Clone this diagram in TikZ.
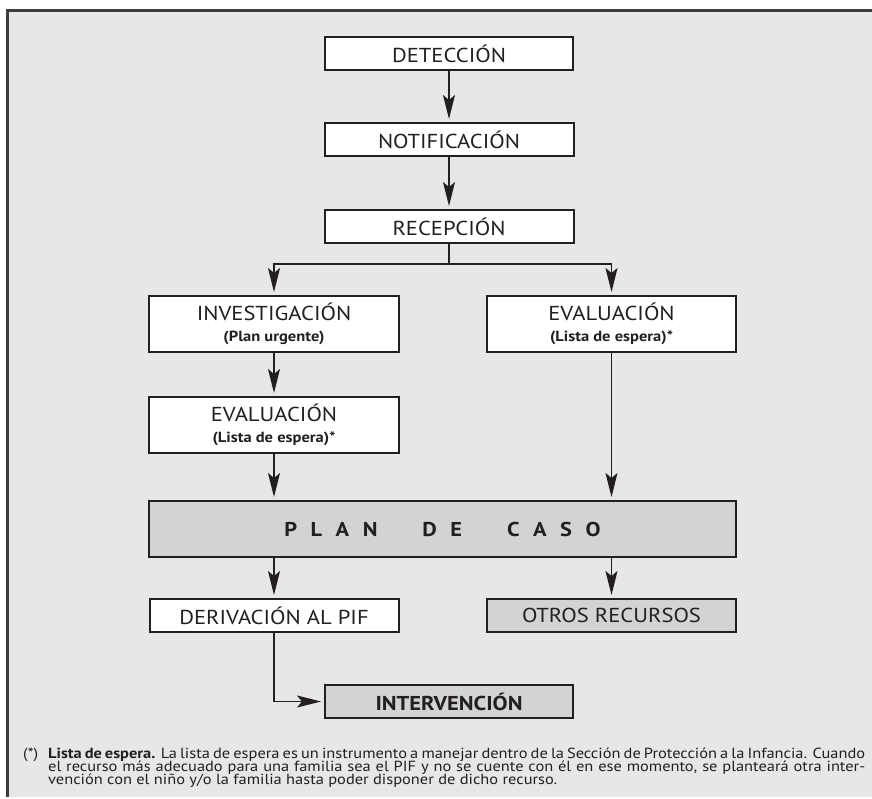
\documentclass[tikz,border=0pt]{standalone}
\usepackage{fontspec}
\setmainfont{PT Sans}[FakeStretch=1.12]
\usetikzlibrary{arrows.meta}
\definecolor{ink}{HTML}{231F20}
\definecolor{bg}{HTML}{E6E7E8}
\definecolor{boxgray}{HTML}{D1D3D4}
\definecolor{framec}{HTML}{3C3C3C}
\newlength\fitw
\newcommand\subline[1]{{\bfseries\fontsize{\subsize}{\subsize}\selectfont #1}}
\begin{document}%
\settowidth\fitw{\fontsize{10}{12}\selectfont NOTIFICACIÓN}%
\pgfmathsetmacro\mainsize{10*142/\fitw}%
\settowidth\fitw{\fontsize{10}{12}\selectfont\bfseries (Lista de espera)*}%
\pgfmathsetmacro\subsize{10*123/\fitw}%
\settowidth\fitw{\fontsize{10}{12}\selectfont\bfseries INTERVENCIÓN}%
\pgfmathsetmacro\intsize{10*147/\fitw}%
\settowidth\fitw{\fontsize{10}{12}\selectfont vención con el niño y/o la familia hasta poder disponer de dicho recurso.}%
\pgfmathsetmacro\notesize{10*509/\fitw}%
\begin{tikzpicture}[x=1pt,y=-1pt,
  flowbox/.style={draw=ink, line width=2pt, fill=white, inner sep=0pt, text=ink,
    align=center, font=\fontsize{\mainsize}{\mainsize}\selectfont},
  graybox/.style={flowbox, fill=boxgray},
  conn/.style={draw=ink, line width=1.5pt, -{Stealth[length=24pt,width=12pt,inset=5pt]}, shorten >=3pt},
  note/.style={anchor=base west, inner sep=0pt, text=ink, font=\fontsize{\notesize}{13}\selectfont}]
\useasboundingbox (0,0) rectangle (872,798);
\fill[bg] (6,10) rectangle (872,797);
\draw[framec, line width=2.5pt] (7.25,797) -- (7.25,10.5) -- (872,10.5);

\node[flowbox, minimum width=248pt, minimum height=33pt] (det) at (449,53.5) {DETECCIÓN};
\node[flowbox, minimum width=249pt, minimum height=33pt] (notif) at (449,139.5) {NOTIFICACIÓN};
\node[flowbox, minimum width=249pt, minimum height=33pt] (recep) at (449,226.5) {RECEPCIÓN};
\node[flowbox, minimum width=250pt, minimum height=56pt] (invest) at (274,324)
  {INVESTIGACIÓN\\[1pt]\subline{(Plan urgente)}};
\node[flowbox, minimum width=249pt, minimum height=56pt] (evalR) at (611.5,324)
  {EVALUACIÓN\\[1pt]\subline{(Lista de espera)*}};
\node[flowbox, minimum width=250pt, minimum height=56pt] (evalL) at (274,425)
  {EVALUACIÓN\\[1pt]\subline{(Lista de espera)*}};
\node[graybox, minimum width=587pt, minimum height=56pt, font=\bfseries\fontsize{20}{22}\selectfont] (plan) at (442.5,529)
  {P\hspace{13.5pt}L\hspace{13.5pt}A\hspace{13.5pt}N\hspace{45pt}D\hspace{13.5pt}E\hspace{45pt}C\hspace{13.5pt}A\hspace{13.5pt}S\hspace{13.5pt}O};
\node[flowbox, minimum width=249pt, minimum height=33pt] (deriv) at (274,615.5) {DERIVACIÓN AL PIF};
\node[graybox, minimum width=249pt, minimum height=33pt] (otros) at (611.5,615.5) {OTROS RECURSOS};
\node[graybox, minimum width=248pt, minimum height=33pt, font=\bfseries\fontsize{\intsize}{\intsize}\selectfont] (interv) at (449,701.5) {INTERVENCIÓN};

\coordinate (bj) at (449,264);
\draw[conn] (det) -- (notif);
\draw[conn] (notif) -- (recep);
\draw[conn] (recep.south) -- (bj) -| (invest.north);
\draw[conn] (bj) -| (evalR.north);
\draw[conn] (invest) -- (evalL);
\draw[conn] (evalL.south) -- (evalL.south |- plan.north);
\draw[conn] (evalR.south) -- (evalR.south |- plan.north);
\draw[conn] (plan.south -| deriv.north) -- (deriv.north);
\draw[conn] (plan.south -| otros.north) -- (otros.north);
\draw[conn] (deriv.south) |- (interv.west);

\node[note] (fnmark) at (23,758) {(*)};
\node[note] (fn1) at (48,758) {\makebox[817pt][s]{\textbf{Lista de espera.} La lista de espera es un instrumento a manejar dentro de la Sección de Protección a la Infancia. Cuando}};
\node[note] (fn2) at (48,771) {\makebox[817pt][s]{el recurso más adecuado para una familia sea el PIF y no se cuente con él en ese momento, se planteará otra inter-}};
\node[note] (fn3) at (48,784) {vención con el niño y/o la familia hasta poder disponer de dicho recurso.};
\end{tikzpicture}%
\end{document}
